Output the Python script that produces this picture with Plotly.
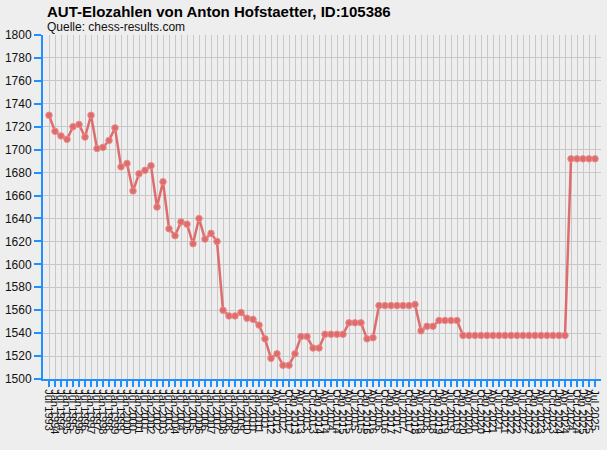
import plotly.graph_objects as go

# Rating list labels (semiannual until Jan 2012, quarterly afterwards)
labels = [
    "Jul 1993", "Jan 1994", "Jul 1994", "Jan 1995", "Jul 1995", "Jan 1996", "Jul 1996",
    "Jan 1997", "Jul 1997", "Jan 1998", "Jul 1998", "Jan 1999", "Jul 1999", "Jan 2000",
    "Jul 2000", "Jan 2001", "Jul 2001", "Jan 2002", "Jul 2002", "Jan 2003", "Jul 2003",
    "Jan 2004", "Jul 2004", "Jan 2005", "Jul 2005", "Jan 2006", "Jul 2006", "Jan 2007",
    "Jul 2007", "Jan 2008", "Jul 2008", "Jan 2009", "Jul 2009", "Jan 2010", "Jul 2010",
    "Jan 2011", "Jul 2011", "Jan 2012",
    "Apr 2012", "Jul 2012", "Oct 2012", "Jan 2013", "Apr 2013", "Jul 2013", "Oct 2013",
    "Jan 2014", "Apr 2014", "Jul 2014", "Oct 2014", "Jan 2015", "Apr 2015", "Jul 2015",
    "Oct 2015", "Jan 2016", "Apr 2016", "Jul 2016", "Oct 2016", "Jan 2017", "Apr 2017",
    "Jul 2017", "Oct 2017", "Jan 2018", "Apr 2018", "Jul 2018", "Oct 2018", "Jan 2019",
    "Apr 2019", "Jul 2019", "Oct 2019", "Jan 2020", "Apr 2020", "Jul 2020", "Oct 2020",
    "Jan 2021", "Apr 2021", "Jul 2021", "Oct 2021", "Jan 2022", "Apr 2022", "Jul 2022",
    "Oct 2022", "Jan 2023", "Apr 2023", "Jul 2023", "Oct 2023", "Jan 2024", "Apr 2024",
    "Jul 2024", "Oct 2024", "Jan 2025", "Apr 2025", "Jul 2025",
]

ratings = [
    1730, 1716, 1712, 1709, 1720, 1722, 1711, 1730, 1701, 1702,
    1708, 1719, 1685, 1688, 1664, 1679, 1682, 1686, 1650, 1672,
    1631, 1625, 1637, 1635, 1618, 1640, 1622, 1627, 1620, 1560,
    1555, 1555, 1558, 1553, 1552, 1547, 1535, 1518, 1522, 1512,
    1512, 1522, 1537, 1537, 1527, 1527, 1539, 1539, 1539, 1539,
    1549, 1549, 1549, 1535, 1536, 1564, 1564, 1564, 1564, 1564,
    1564, 1565, 1542, 1546, 1546, 1551, 1551, 1551, 1551, 1538,
    1538, 1538, 1538, 1538, 1538, 1538, 1538, 1538, 1538, 1538,
    1538, 1538, 1538, 1538, 1538, 1538, 1538, 1692, 1692, 1692,
    1692, 1692,
]

y_ticks = list(range(1500, 1801, 20))

title_text = "AUT-Elozahlen von Anton Hofstaetter, ID:105386"
subtitle_text = "Quelle: chess-results.com"

BLUE = "rgb(30,144,255)"
RED = "rgb(222,96,96)"
GRID = "rgb(200,200,200)"
BG = "rgb(238,238,238)"
FONT = "Liberation Sans, Arial, sans-serif"

fig = go.Figure()
fig.add_trace(go.Scatter(
    x=labels, y=ratings, mode="lines+markers",
    line=dict(color=RED, width=2.5),
    marker=dict(color=RED, size=6.5, line=dict(color="rgb(235,130,130)", width=1)),
    opacity=0.9,
    hoverinfo="x+y",
))

fig.update_layout(
    width=607, height=450,
    margin=dict(l=43, r=6, t=35, b=71),
    paper_bgcolor=BG, plot_bgcolor=BG,
    showlegend=False,
    font=dict(family=FONT, color="#111111"),
    xaxis=dict(
        type="category",
        categoryorder="array", categoryarray=labels,
        range=[-1, len(labels)],
        tickmode="linear", tick0=0, dtick=1,
        tickangle=90,
        tickfont=dict(size=11, color="#111111"),
        ticks="outside", ticklen=6, tickwidth=2, tickcolor=BLUE,
        showline=True, linecolor=BLUE, linewidth=2,
        showgrid=True, gridcolor=GRID, gridwidth=1,
        zeroline=False, fixedrange=True, automargin=False,
    ),
    yaxis=dict(
        range=[1500, 1800],
        tickmode="array", tickvals=y_ticks,
        tickfont=dict(size=12, color="#111111"),
        ticks="outside", ticklen=7, tickwidth=2, tickcolor=BLUE,
        showline=True, linecolor=BLUE, linewidth=2,
        showgrid=True, gridcolor=GRID, gridwidth=1,
        zeroline=False, fixedrange=True, automargin=False,
    ),
    annotations=[
        dict(text="<b>" + title_text + "</b>", xref="paper", yref="paper",
             x=0, y=1, xanchor="left", yanchor="middle", xshift=2, yshift=24,
             showarrow=False, font=dict(size=15, family=FONT, color="#000000")),
        dict(text=subtitle_text, xref="paper", yref="paper",
             x=0, y=1, xanchor="left", yanchor="middle", xshift=2, yshift=8,
             showarrow=False, font=dict(size=12, family=FONT, color="#111111")),
    ],
)

post = (
    "document.body.style.margin='0';"
    "document.body.style.padding='0';"
    "document.body.style.background='rgb(238,238,238)';"
    "document.documentElement.style.background='rgb(238,238,238)';"
)

fig.write_html("out.html", config={"displayModeBar": False}, post_script=post)
